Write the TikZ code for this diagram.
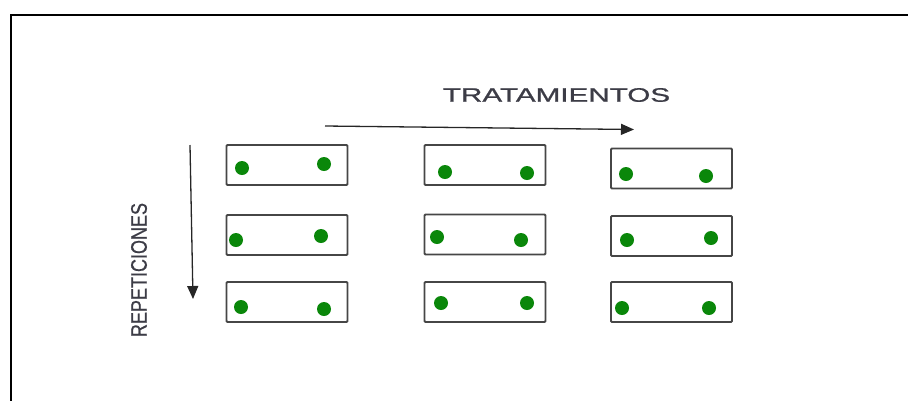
\documentclass[tikz,border=0pt]{standalone}
\usepackage{fontspec}
\setmainfont{Liberation Sans}
\newfontfamily\labelfont[FakeBold=0.8]{Liberation Sans}
\usetikzlibrary{arrows.meta}
\definecolor{plantgreen}{RGB}{10,135,10}
\definecolor{plotedge}{RGB}{70,70,70}
\definecolor{labelgrey}{RGB}{60,60,70}
\tikzset{
  plot/.style={draw=plotedge, line width=1.8pt, rounded corners=1pt,
    minimum width=121pt, minimum height=40pt, inner sep=0pt},
  plant/.style={circle, fill=plantgreen, minimum size=14pt, inner sep=0pt},
  axisarrow/.style={draw=black!85, line width=1.3pt,
    -{Triangle[length=13pt,width=11pt]}},
  axislabel/.style={text=labelgrey, inner sep=0pt},
  frame/.style={line width=1.8pt}
}
\begin{document}
\begin{tikzpicture}[x=1pt,y=-1pt]
\useasboundingbox (0,0) rectangle (908,400);
% outer frame (runs off the page to the right and bottom)
\draw[frame] (11,405) -- (11,15) -- (915,15);

% plots: rows = repetitions, columns = treatments
\node[plot] (p11) at (287,165) {};
\node[plot] (p12) at (485,165) {};
\node[plot] (p13) at (671.5,168.5) {};
\node[plot] (p21) at (287,235) {};
\node[plot] (p22) at (485,234.5) {};
\node[plot] (p23) at (671.5,236) {};
\node[plot] (p31) at (287,302) {};
\node[plot] (p32) at (485,302) {};
\node[plot] (p33) at (671.5,302) {};

% two plants in every plot
\node[plant] (a11) at (242,168) {};
\node[plant] (b11) at (324,164) {};
\node[plant] (a12) at (445,172) {};
\node[plant] (b12) at (527,173) {};
\node[plant] (a13) at (626,174) {};
\node[plant] (b13) at (706,176) {};
\node[plant] (a21) at (236,240) {};
\node[plant] (b21) at (321,236) {};
\node[plant] (a22) at (437,237) {};
\node[plant] (b22) at (521,240) {};
\node[plant] (a23) at (627,240) {};
\node[plant] (b23) at (711,238) {};
\node[plant] (a31) at (241,307) {};
\node[plant] (b31) at (324,309) {};
\node[plant] (a32) at (441,303) {};
\node[plant] (b32) at (527,303) {};
\node[plant] (a33) at (622,308) {};
\node[plant] (b33) at (709,308) {};

% axes
\coordinate (tstart) at (325,126);
\coordinate (tend) at (634,129.5);
\draw[axisarrow] (tstart) -- (tend);
\node[axislabel, font=\labelfont\fontsize{19.5}{20}\selectfont] (tlabel) at (556.5,95)
  {\scalebox{1.52}[1]{TRATAMIENTOS}};

\coordinate (rstart) at (190,145);
\coordinate (rend) at (193,299);
\draw[axisarrow] (rstart) -- (rend);
\node[axislabel, rotate=90, font=\labelfont\fontsize{22.5}{22}\selectfont] (rlabel) at (139,270)
  {\scalebox{0.8}[1]{REPETICIONES}};
\end{tikzpicture}
\end{document}
